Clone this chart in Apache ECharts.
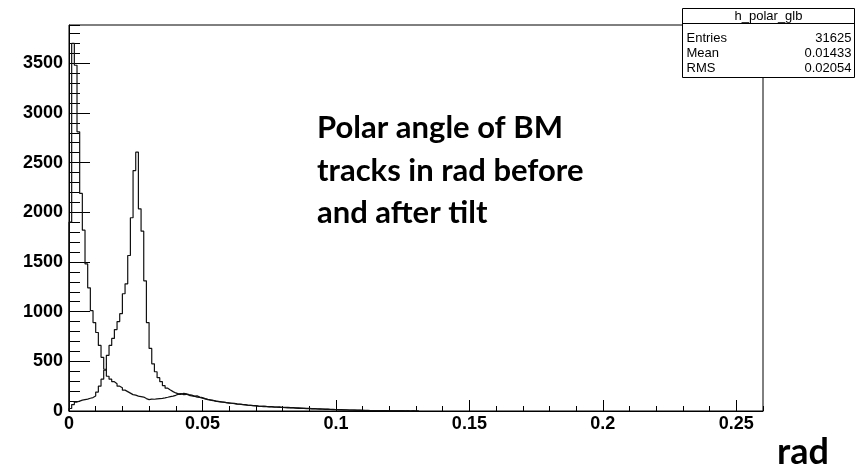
<!DOCTYPE html>
<html>
<head>
<meta charset="utf-8">
<script src="https://cdn.jsdelivr.net/npm/echarts@6/dist/echarts.min.js"></script>
<style>
  html, body { margin: 0; padding: 0; background: #fff; }
  #chart { width: 857px; height: 469px; }
</style>
</head>
<body>
<div id="chart"></div>
<script>
// Polar angle histograms (0.001 rad bins starting at 0)
const BIN_WIDTH = 0.001;
const X_MIN = 0;
const X_MAX = 0.26;
const Y_MAX = 3885;

// Before tilt: counts per bin
const beforeTilt = [
  1900, 3700, 3480, 2810, 2190, 1820, 1480, 1240, 1010, 890,
  790, 660, 540, 420, 350, 320, 295, 275, 250, 235,
  210, 195, 180, 165, 160, 150, 145, 140, 125, 115,
  120, 118, 122, 125, 128, 132, 138, 145, 150, 158,
  170, 168, 178, 172, 165, 160, 150, 152, 140, 135,
  125, 118, 112, 108, 100, 96, 92, 90, 85, 82,
  78, 76, 72, 70, 66, 64, 60, 58, 55, 54,
  50, 48, 50, 46, 44, 45, 42, 40, 41, 38,
  36, 38, 34, 33, 31, 32, 29, 28, 27, 26,
  24, 25, 22, 21, 20, 19, 18, 17, 16, 15,
  14, 13, 12, 11, 10, 10, 9, 8, 8, 7,
  6, 6, 5, 5, 4, 4, 3, 3, 3, 2,
  2, 2, 1, 2, 1, 1, 1, 0, 1, 0, 1
];

// After tilt: counts per bin
const afterTilt = [
  25, 65, 90, 100, 110, 115, 120, 128, 135, 150,
  190, 250, 320, 410, 560, 660, 730, 820, 900, 980,
  1180, 1280, 1565, 1945, 2420, 2605, 2035, 1810, 1310, 890,
  630, 475, 395, 335, 295, 255, 230, 212, 195, 182,
  172, 175, 165, 168, 158, 152, 148, 140, 136, 128,
  122, 115, 110, 104, 100, 95, 92, 88, 84, 80,
  78, 74, 70, 68, 64, 62, 58, 56, 54, 52,
  49, 47, 45, 44, 42, 40, 38, 39, 36, 35,
  33, 32, 31, 30, 29, 27, 26, 25, 24, 23,
  22, 21, 20, 19, 18, 17, 16, 15, 14, 13,
  12, 11, 11, 10, 9, 8, 8, 7, 6, 6,
  5, 5, 4, 4, 3, 3, 3, 2, 2, 2,
  1, 2, 1, 1, 1, 0, 1, 0, 1, 0, 0
];

// Statistics box content
const statsTitle = 'h_polar_glb';
const statsLabels = ['Entries', 'Mean', 'RMS'];
const statsValues = ['31625', '0.01433', '0.02054'];

const noteLines = ['Polar angle of BM', 'tracks in rad before', 'and after tilt'];
const xTitle = 'rad';

// Turn bin contents into an outline: rise at the first edge, step across each bin, drop at the last edge
function outline(counts) {
  const pts = [[X_MIN, 0]];
  counts.forEach((c, i) => pts.push([X_MIN + i * BIN_WIDTH, c]));
  pts.push([X_MIN + counts.length * BIN_WIDTH, 0]);
  return pts;
}

const chart = echarts.init(document.getElementById('chart'), null, { renderer: 'canvas' });

const labelFont = { fontFamily: 'Liberation Sans', fontWeight: 'bold', fontSize: 18, color: '#000' };
const statsFont = 'Liberation Sans';

const box = { x: 682.5, y: 8.5, w: 172, h: 69 };

const graphics = [
  { type: 'rect', z: 100, shape: { x: box.x, y: box.y, width: box.w, height: box.h },
    style: { fill: '#fff', stroke: '#000', lineWidth: 1 } },
  { type: 'line', z: 101, shape: { x1: box.x, y1: 23.5, x2: box.x + box.w, y2: 23.5 },
    style: { stroke: '#000', lineWidth: 1 } },
  { type: 'text', z: 101, x: box.x + box.w / 2, y: 16,
    style: { text: statsTitle, font: '13px ' + statsFont, fill: '#000', textAlign: 'center', textVerticalAlign: 'middle' } }
];
statsLabels.forEach((lab, i) => {
  const cy = 38 + i * 15;
  graphics.push({ type: 'text', z: 101, x: box.x + 4, y: cy,
    style: { text: lab, font: '13px ' + statsFont, fill: '#000', textAlign: 'left', textVerticalAlign: 'middle' } });
  graphics.push({ type: 'text', z: 101, x: box.x + box.w - 3, y: cy,
    style: { text: statsValues[i], font: '13px ' + statsFont, fill: '#000', textAlign: 'right', textVerticalAlign: 'middle' } });
});
noteLines.forEach((t, i) => {
  graphics.push({ type: 'text', z: 50, x: 317, y: 128 + i * 42.5,
    style: { text: t, font: 'bold 31px Lato', fill: '#000', textAlign: 'left', textVerticalAlign: 'middle' } });
});
graphics.push({ type: 'text', z: 50, x: 777, y: 452,
  style: { text: xTitle, font: 'bold 36px Lato', fill: '#000', textAlign: 'left', textVerticalAlign: 'middle' } });

const option = {
  animation: false,
  backgroundColor: '#fff',
  grid: { left: 69, top: 25, right: 94, bottom: 58, show: true, borderColor: '#000', borderWidth: 1, backgroundColor: 'transparent' },
  xAxis: [
    { type: 'value', min: X_MIN, max: X_MAX, interval: 0.05, position: 'bottom',
      axisLine: { show: true, onZero: false, lineStyle: { color: '#000', width: 1 } },
      axisTick: { show: true, inside: true, length: 11, lineStyle: { color: '#000' } },
      axisLabel: Object.assign({ margin: 4, showMaxLabel: false, formatter: v => String(+v.toFixed(3)) }, labelFont),
      splitLine: { show: false } },
    { type: 'value', min: X_MIN, max: X_MAX, interval: 0.01, position: 'bottom',
      axisLine: { show: false }, axisLabel: { show: false }, splitLine: { show: false },
      axisTick: { show: true, inside: true, length: 5, lineStyle: { color: '#000' } } }
  ],
  yAxis: [
    { type: 'value', min: 0, max: Y_MAX, interval: 500, position: 'left',
      axisLine: { show: true, onZero: false, lineStyle: { color: '#000', width: 1 } },
      axisTick: { show: true, inside: true, length: 21, lineStyle: { color: '#000' } },
      axisLabel: Object.assign({ margin: 6, showMaxLabel: false, formatter: v => String(Math.round(v)) }, labelFont),
      splitLine: { show: false } },
    { type: 'value', min: 0, max: Y_MAX, interval: 100, position: 'left', offset: 0,
      axisLine: { show: false }, axisLabel: { show: false }, splitLine: { show: false },
      axisTick: { show: true, inside: true, length: 11, lineStyle: { color: '#000' } } }
  ],
  series: [
    { name: 'before tilt', type: 'line', step: 'end', xAxisIndex: 0, yAxisIndex: 0,
      data: outline(beforeTilt), showSymbol: false, symbol: 'none', clip: true,
      lineStyle: { color: '#111', width: 1.2 } },
    { name: 'after tilt', type: 'line', step: 'end', xAxisIndex: 0, yAxisIndex: 0,
      data: outline(afterTilt), showSymbol: false, symbol: 'none', clip: true,
      lineStyle: { color: '#111', width: 1.2 } }
  ],
  graphic: graphics
};

chart.setOption(option);
</script>
</body>
</html>
